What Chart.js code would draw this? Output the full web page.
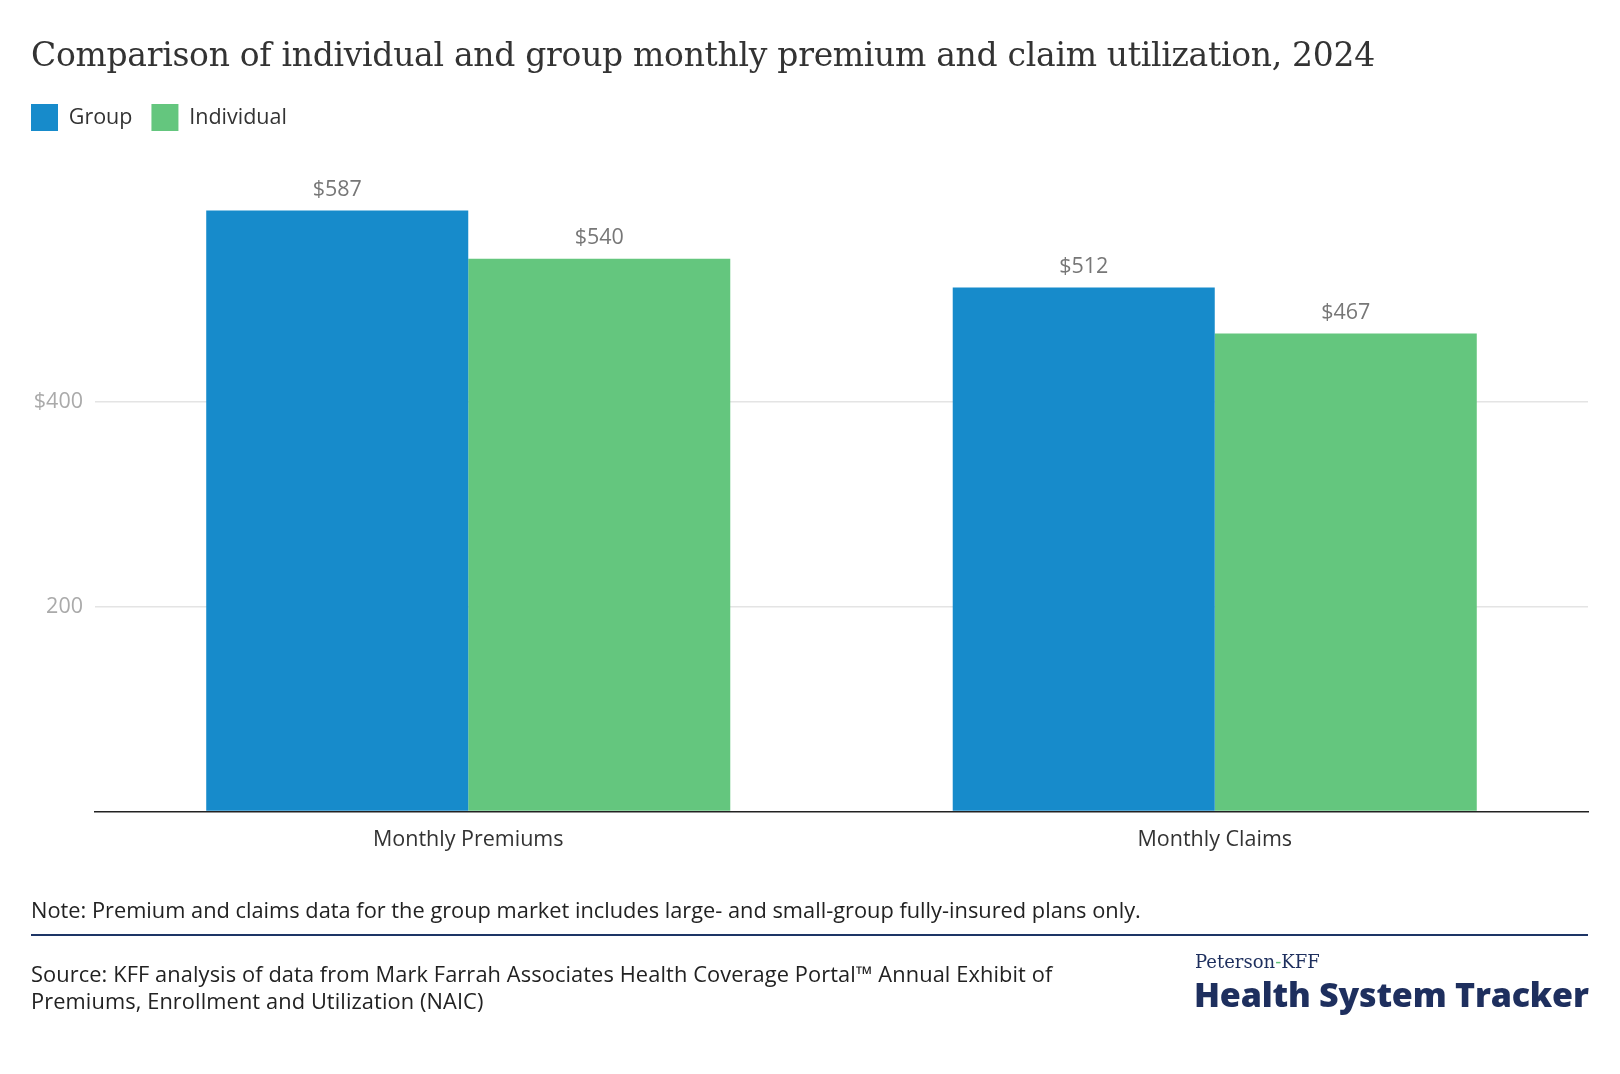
<!DOCTYPE html>
<html>
<head>
<meta charset="utf-8">
<script src="https://cdn.jsdelivr.net/npm/chart.js@4.4.1/dist/chart.umd.min.js"></script>
<style>
  body { margin: 0; background: #fff; }
  #wrap { position: relative; width: 1620px; height: 1074px; overflow: hidden; }
  #chart { position: absolute; left: 0; top: 0; }
  .txt { position: absolute; font-family: "Open Sans", Lato, sans-serif; color: #222; white-space: nowrap; }
  #title { left: 31px; top: 35px; font-family: "DejaVu Serif", serif; font-size: 33px; color: #333; letter-spacing: -0.3px; }
  #note { left: 31px; top: 895px; font-size: 21.8px; }
  #rule { position: absolute; left: 31px; top: 934px; width: 1557px; height: 2px; background: #1d3566; }
  #source { left: 31px; top: 960px; font-size: 21.8px; line-height: 27px; letter-spacing: 0.1px; }
  #logo1 { left: 1195px; top: 951px; font-family: "DejaVu Serif", serif; font-size: 18px; color: #1e2f5e; }
  #logo1 span { color: #5bbf74; }
  #logo2 { left: 1194px; top: 971px; font-size: 34px; font-weight: 800; color: #1e2f5e; letter-spacing: -0.2px; }
</style>
</head>
<body>
<div id="wrap">
  <canvas id="chart" width="1620" height="1074"></canvas>
  <div class="txt" id="title">Comparison of individual and group monthly premium and claim utilization, 2024</div>
  <div class="txt" id="note">Note: Premium and claims data for the group market includes large- and small-group fully-insured plans only.</div>
  <div id="rule"></div>
  <div class="txt" id="source">Source: KFF analysis of data from Mark Farrah Associates Health Coverage Portal™ Annual Exhibit of<br>Premiums, Enrollment and Utilization (NAIC)</div>
  <div class="txt" id="logo1">Peterson<span>-</span>KFF</div>
  <div class="txt" id="logo2">Health System Tracker</div>
</div>
<script>
const categories = ["Monthly Premiums", "Monthly Claims"];
const seriesNames = ["Group", "Individual"];
const groupValues = [587, 512];
const individualValues = [540, 467];
const yTicks = [200, 400];

const blue = "#178bcb";
const green = "#64c67e";
const sans = "'Open Sans'";

// value labels above each bar
const barLabels = {
    id: "barLabels",
    afterDatasetsDraw(chart) {
        const ctx = chart.ctx;
        ctx.save();
        ctx.font = "21.5px " + sans;
        ctx.fillStyle = "#777";
        ctx.textAlign = "center";
        ctx.textBaseline = "middle";
        chart.data.datasets.forEach((ds, i) => {
            chart.getDatasetMeta(i).data.forEach((bar, j) => {
                ctx.fillText("$" + ds.data[j], bar.x, bar.y - 21);
            });
        });
        ctx.restore();
    },
};

const chart = new Chart(document.getElementById("chart").getContext("2d"), {
    type: "bar",
    data: {
        labels: categories,
        datasets: [
            { label: seriesNames[0], data: groupValues, backgroundColor: blue, borderWidth: 0 },
            { label: seriesNames[1], data: individualValues, backgroundColor: green, borderWidth: 0 },
        ],
    },
    options: {
        responsive: false,
        animation: false,
        devicePixelRatio: 1,
        categoryPercentage: 0.702,
        barPercentage: 1.0,
        layout: { padding: { left: 12, right: 32, top: 85, bottom: 200 } },
        plugins: {
            legend: {
                position: "top",
                align: "start",
                labels: {
                    boxWidth: 27,
                    boxHeight: 27,
                    padding: 19,
                    color: "#333",
                    font: { family: sans, size: 21.5 },
                },
            },
            tooltip: { enabled: false },
        },
        scales: {
            x: {
                grid: { display: false },
                border: { display: true, color: "#222", width: 1.5 },
                ticks: { color: "#333", padding: 7, font: { family: sans, size: 21.5 } },
                afterFit(scale) { scale.height = 62.4; },
            },
            y: {
                min: 0,
                max: 655,
                border: { display: false },
                grid: {
                    drawTicks: false,
                    lineWidth: 1.5,
                    color: (c) => (yTicks.includes(c.tick.value) ? "#e4e4e4" : "rgba(0,0,0,0)"),
                },
                ticks: {
                    stepSize: 200,
                    includeBounds: false,
                    padding: 12,
                    color: "#aaa",
                    font: { family: sans, size: 21.5 },
                    callback: (v) => (v === 400 ? "$" + v : yTicks.includes(v) ? String(v) : ""),
                },
                afterFit(scale) { scale.width = 83; },
            },
        },
    },
    plugins: [barLabels],
});
</script>
</body>
</html>
